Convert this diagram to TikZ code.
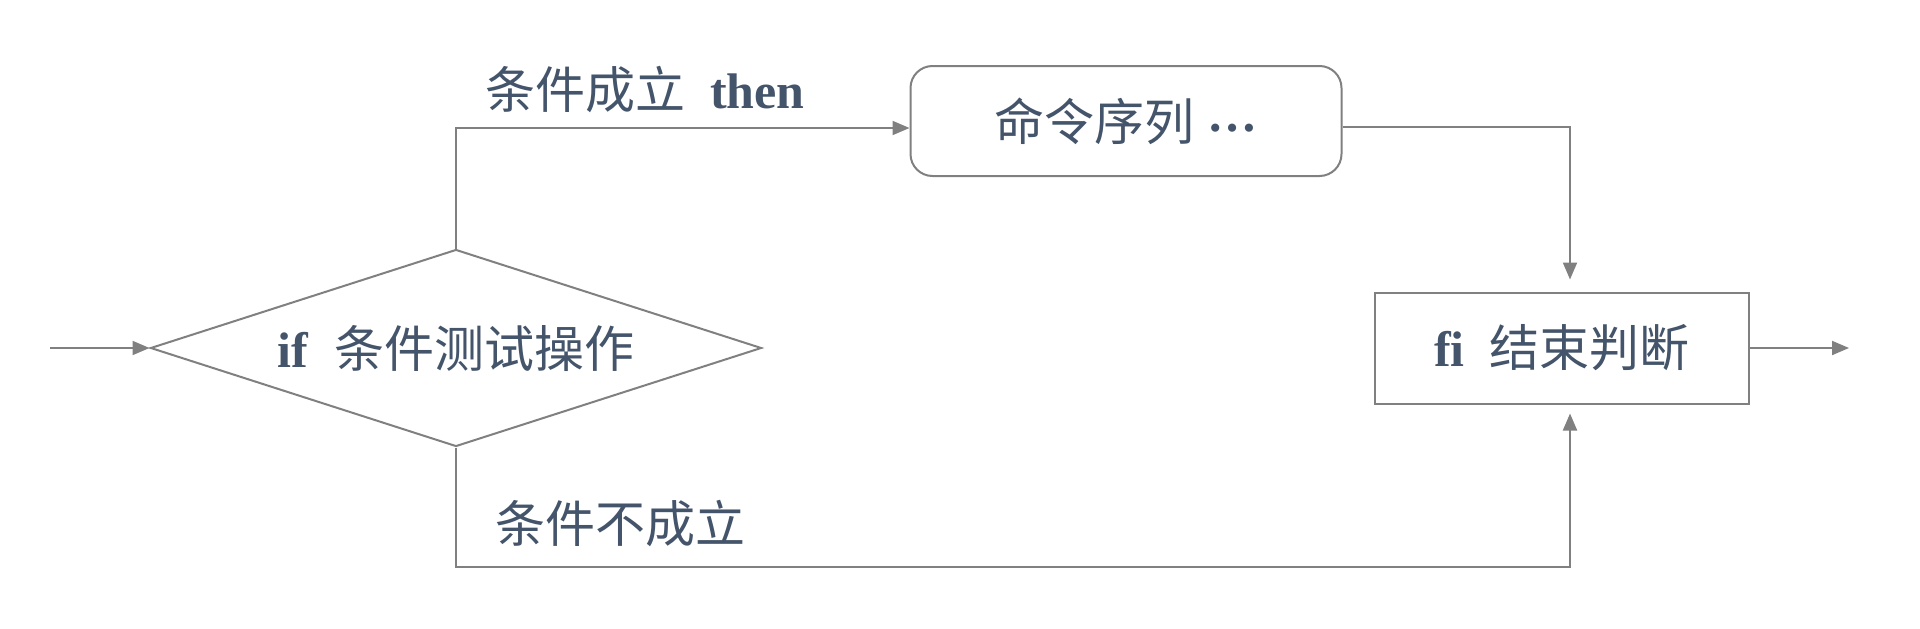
\documentclass[tikz,border=0pt]{standalone}
\usepackage{fontspec}
\setmainfont{Liberation Serif}
\newfontfamily\cjk{Noto Sans CJK SC}
\usetikzlibrary{arrows.meta,positioning,calc,shapes.geometric}
\definecolor{txtblue}{HTML}{44546A}
\definecolor{linegray}{HTML}{808080}
\tikzset{
  block/.style    = {draw=linegray, line width=2pt, rectangle, minimum height=111pt,
                     minimum width=374pt, align=center, text=txtblue},
  cmdbox/.style   = {block, rounded corners=22pt, minimum width=431pt, minimum height=110pt},
  decision/.style = {draw=linegray, line width=2pt, diamond, shape aspect=3.1, inner sep=0pt,
                     minimum width=611pt, minimum height=197pt, text=txtblue},
  sig/.style      = {-{Triangle[length=17pt,width=14pt]}, draw=linegray, line width=2pt},
  lbl/.style      = {text=txtblue},
}
\begin{document}
\begin{tikzpicture}[x=1pt,y=-1pt,font=\fontsize{50}{60}\selectfont]
\useasboundingbox (0,0) rectangle (1920,629);
\node[decision] (test) at (456,348) {\textbf{if}\ \ {\cjk 条件测试操作}};
\node[cmdbox] (cmd) at (1126,121) {{\cjk 命令序列}\ \raisebox{9pt}{\textbf{…}}};
\node[block] (fi) at (1562,348) {\textbf{fi}\ \ {\cjk 结束判断}};
\node[lbl] (yes) at (645,90) {{\cjk 条件成立}\ \ \textbf{then}};
\node[lbl] (no) at (620,524) {\cjk 条件不成立};
\coordinate (in) at (50,348);
\coordinate (out) at (1849,348);
\coordinate (low) at (test.south |- 0,567);
\coordinate (fitop) at ([xshift=8pt]fi.north);
\coordinate (fibot) at ([xshift=8pt]fi.south);
% main line and the two branches
\draw[sig] (in) -- (test);
\draw[sig] (test.north) |- ([yshift=-7pt]cmd.west);
\draw[sig, shorten >=12pt] ([yshift=-6pt]cmd.east) -| (fitop);
\draw[sig, shorten >=9pt] (test.south) -- (low) -| (fibot);
\draw[sig] (fi) -- (out);
\end{tikzpicture}
\end{document}
